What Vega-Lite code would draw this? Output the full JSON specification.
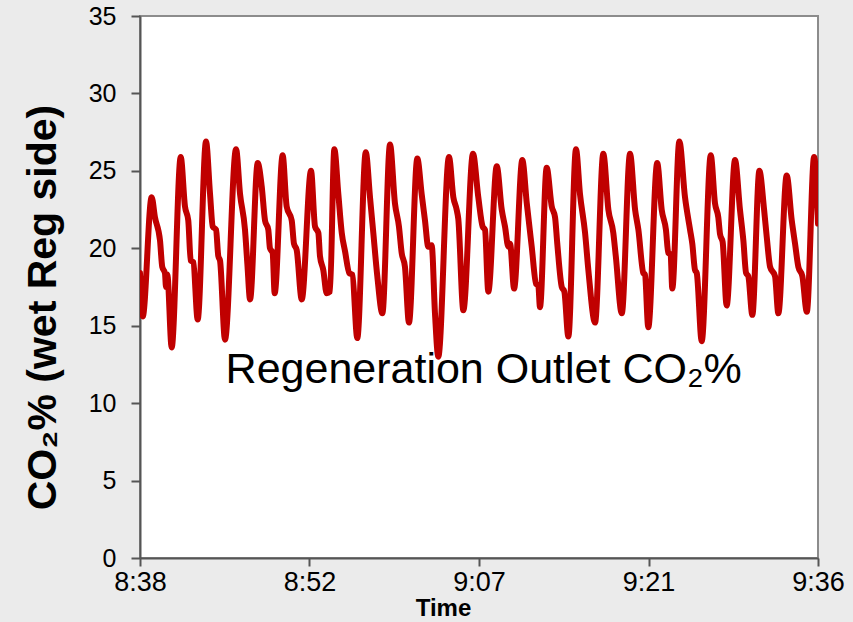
{
  "$schema": "https://vega.github.io/schema/vega-lite/v6.json",
  "width": 678,
  "height": 542,
  "autosize": {"type": "none"},
  "padding": {"left": 140, "top": 16, "right": 35, "bottom": 64},
  "background": "#ebebeb",
  "config": {
    "font": "Liberation Sans",
    "view": {"fill": "white", "stroke": "#8c8c8c", "strokeWidth": 2}
  },
  "layer": [
    {
      "data": {
        "values": [
          {"t": 518.40, "v": 18.4}, {"t": 518.63, "v": 15.6}, {"t": 519.39, "v": 23.3}, {"t": 519.67, "v": 22.0},
          {"t": 520.10, "v": 20.5}, {"t": 520.29, "v": 18.8}, {"t": 520.52, "v": 18.4}, {"t": 520.61, "v": 17.5},
          {"t": 520.72, "v": 18.3}, {"t": 521.09, "v": 13.6}, {"t": 521.86, "v": 25.9}, {"t": 522.22, "v": 22.7},
          {"t": 522.50, "v": 21.8}, {"t": 522.71, "v": 19.2}, {"t": 522.93, "v": 19.1}, {"t": 523.30, "v": 15.4},
          {"t": 524.01, "v": 26.9}, {"t": 524.35, "v": 23.5}, {"t": 524.58, "v": 21.4}, {"t": 524.86, "v": 21.2},
          {"t": 525.05, "v": 19.5}, {"t": 525.20, "v": 19.2}, {"t": 525.62, "v": 14.1}, {"t": 526.56, "v": 26.4},
          {"t": 526.90, "v": 23.5}, {"t": 527.32, "v": 21.2}, {"t": 527.52, "v": 19.0}, {"t": 527.75, "v": 16.7},
          {"t": 528.40, "v": 25.5}, {"t": 528.74, "v": 24.0}, {"t": 529.02, "v": 21.8}, {"t": 529.30, "v": 21.2},
          {"t": 529.44, "v": 20.0}, {"t": 529.67, "v": 19.7}, {"t": 529.84, "v": 17.1}, {"t": 530.52, "v": 26.0},
          {"t": 530.86, "v": 22.7}, {"t": 531.29, "v": 21.8}, {"t": 531.48, "v": 20.3}, {"t": 531.71, "v": 19.9},
          {"t": 532.14, "v": 16.7}, {"t": 532.93, "v": 25.0}, {"t": 533.27, "v": 21.4}, {"t": 533.55, "v": 21.0},
          {"t": 533.69, "v": 19.5}, {"t": 533.97, "v": 18.6}, {"t": 534.26, "v": 17.1}, {"t": 534.54, "v": 17.2},
          {"t": 534.91, "v": 26.4}, {"t": 535.25, "v": 23.5}, {"t": 535.54, "v": 21.0}, {"t": 535.82, "v": 19.8},
          {"t": 536.18, "v": 18.4}, {"t": 536.44, "v": 18.3}, {"t": 536.86, "v": 14.2}, {"t": 537.58, "v": 26.2},
          {"t": 537.94, "v": 23.3}, {"t": 538.22, "v": 21.0}, {"t": 538.56, "v": 18.2}, {"t": 538.99, "v": 15.8},
          {"t": 539.64, "v": 26.7}, {"t": 540.06, "v": 22.9}, {"t": 540.40, "v": 21.4}, {"t": 540.63, "v": 19.7},
          {"t": 540.91, "v": 18.8}, {"t": 541.25, "v": 15.2}, {"t": 541.96, "v": 25.8}, {"t": 542.33, "v": 23.5},
          {"t": 542.61, "v": 21.8}, {"t": 542.89, "v": 20.1}, {"t": 543.18, "v": 20.2}, {"t": 543.46, "v": 15.8},
          {"t": 543.74, "v": 13.0}, {"t": 544.65, "v": 25.9}, {"t": 545.02, "v": 23.3}, {"t": 545.30, "v": 22.5},
          {"t": 545.44, "v": 21.9}, {"t": 545.87, "v": 16.0}, {"t": 546.69, "v": 26.1}, {"t": 547.14, "v": 23.3},
          {"t": 547.51, "v": 21.4}, {"t": 547.71, "v": 21.2}, {"t": 547.99, "v": 17.2}, {"t": 548.71, "v": 25.3},
          {"t": 549.13, "v": 22.5}, {"t": 549.41, "v": 21.4}, {"t": 549.69, "v": 20.1}, {"t": 549.84, "v": 20.3},
          {"t": 550.18, "v": 17.4}, {"t": 550.88, "v": 25.7}, {"t": 551.26, "v": 22.9}, {"t": 551.68, "v": 20.1},
          {"t": 552.05, "v": 17.7}, {"t": 552.24, "v": 17.6}, {"t": 552.38, "v": 16.2}, {"t": 552.95, "v": 25.2},
          {"t": 553.38, "v": 22.7}, {"t": 553.66, "v": 22.0}, {"t": 553.85, "v": 20.3}, {"t": 554.23, "v": 17.5},
          {"t": 554.45, "v": 17.2}, {"t": 554.79, "v": 14.3}, {"t": 555.44, "v": 26.4}, {"t": 555.78, "v": 23.5},
          {"t": 556.21, "v": 21.0}, {"t": 556.49, "v": 18.6}, {"t": 557.06, "v": 15.2}, {"t": 557.76, "v": 26.1},
          {"t": 558.19, "v": 22.5}, {"t": 558.61, "v": 21.0}, {"t": 558.82, "v": 19.5}, {"t": 559.33, "v": 15.8},
          {"t": 560.03, "v": 26.1}, {"t": 560.46, "v": 22.5}, {"t": 560.74, "v": 21.2}, {"t": 561.16, "v": 18.4},
          {"t": 561.30, "v": 18.3}, {"t": 561.58, "v": 14.9}, {"t": 562.34, "v": 25.5}, {"t": 562.72, "v": 22.5},
          {"t": 563.08, "v": 21.2}, {"t": 563.28, "v": 19.7}, {"t": 563.48, "v": 19.6}, {"t": 563.62, "v": 17.4},
          {"t": 564.22, "v": 26.9}, {"t": 564.70, "v": 23.3}, {"t": 565.13, "v": 21.2}, {"t": 565.32, "v": 20.3},
          {"t": 565.55, "v": 18.6}, {"t": 565.70, "v": 18.4}, {"t": 566.12, "v": 14.0}, {"t": 566.89, "v": 26.0},
          {"t": 567.25, "v": 22.9}, {"t": 567.53, "v": 22.0}, {"t": 567.68, "v": 20.9}, {"t": 567.90, "v": 20.4},
          {"t": 568.24, "v": 16.3}, {"t": 568.95, "v": 25.7}, {"t": 569.37, "v": 22.5}, {"t": 569.66, "v": 20.5},
          {"t": 569.89, "v": 18.4}, {"t": 570.08, "v": 18.2}, {"t": 570.42, "v": 15.7}, {"t": 571.02, "v": 25.0},
          {"t": 571.42, "v": 22.5}, {"t": 571.65, "v": 20.7}, {"t": 571.93, "v": 18.8}, {"t": 572.35, "v": 18.2},
          {"t": 572.63, "v": 15.8}, {"t": 573.34, "v": 24.7}, {"t": 573.77, "v": 21.8}, {"t": 574.05, "v": 20.3},
          {"t": 574.33, "v": 18.8}, {"t": 574.67, "v": 18.2}, {"t": 575.05, "v": 15.9}, {"t": 575.67, "v": 25.9},
          {"t": 576.00, "v": 21.6}
        ]
      },
      "mark": {"type": "line", "color": "#c00000", "strokeWidth": 6, "strokeJoin": "round", "strokeCap": "round", "interpolate": "monotone", "clip": true},
      "encoding": {
        "x": {
          "field": "t", "type": "quantitative",
          "scale": {"domain": [518.4, 576], "nice": false, "zero": false},
          "axis": {
            "values": [518.4, 532.8, 547.2, 561.6, 576],
            "labelExpr": "floor(datum.value/60) + ':' + (floor(datum.value%60) < 10 ? '0' : '') + floor(datum.value%60)",
            "labelFlush": false, "labelOverlap": false, "labelBound": false,
            "labelFontSize": 27, "labelColor": "black", "labelPadding": 3,
            "tickSize": 8, "tickColor": "#555555", "tickWidth": 2,
            "domainColor": "#555555", "domainWidth": 2, "grid": false,
            "title": "Time", "titleFontSize": 24, "titleFontWeight": "bold", "titleColor": "black",
            "titleX": 303, "titleY": 57, "titleBaseline": "alphabetic", "titleAlign": "center"
          }
        },
        "y": {
          "field": "v", "type": "quantitative",
          "scale": {"domain": [0, 35], "nice": false, "zero": true},
          "axis": {
            "values": [0, 5, 10, 15, 20, 25, 30, 35],
            "labelFontSize": 25, "labelColor": "black", "labelPadding": 15,
            "tickSize": 9, "tickColor": "#555555", "tickWidth": 2,
            "domainColor": "#555555", "domainWidth": 2, "grid": false,
            "title": "CO₂% (wet Reg side)", "titleFontSize": 41, "titleFontWeight": "bold", "titleColor": "black",
            "titleAngle": -90, "titleX": -76, "titleY": 291, "titleAlign": "center", "titleBaseline": "bottom"
          }
        }
      }
    },
    {
      "data": {"values": [{"t": 547.6, "v": 11.27, "label": "Regeneration Outlet CO₂%"}]},
      "mark": {"type": "text", "fontSize": 43, "color": "black", "align": "center", "baseline": "alphabetic"},
      "encoding": {
        "x": {"field": "t", "type": "quantitative"},
        "y": {"field": "v", "type": "quantitative"},
        "text": {"field": "label"}
      }
    }
  ]
}
